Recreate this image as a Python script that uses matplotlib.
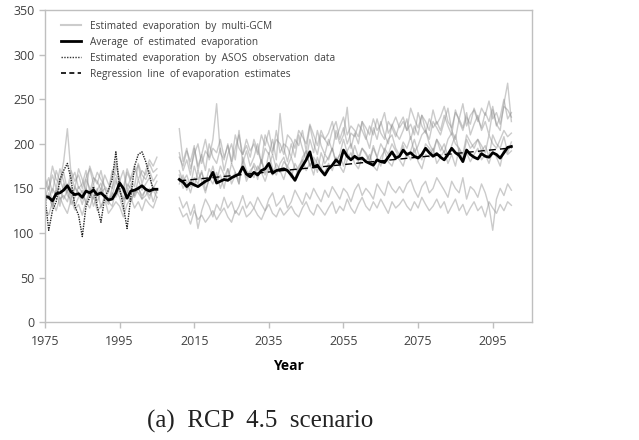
import numpy as np
import matplotlib
matplotlib.use("Agg")
import matplotlib.pyplot as plt

# years
HIST_YEARS = np.arange(1975, 2006)
FUT_YEARS = np.arange(2011, 2101)

# multi-GCM estimates, historical period (1975-2005)
GCM_HIST = [
    [150, 162, 145, 170, 158, 180, 217, 165, 150, 172, 160, 148, 175, 162, 155, 170,
     150, 145, 165, 180, 158, 150, 172, 160, 168, 176, 155, 170, 182, 175, 185],
    [145, 138, 150, 142, 160, 148, 155, 140, 152, 145, 138, 160, 150, 142, 148, 156,
     140, 135, 150, 162, 145, 138, 155, 150, 142, 160, 148, 155, 162, 150, 158],
    [132, 145, 128, 150, 138, 142, 135, 152, 130, 140, 148, 132, 145, 138, 150, 128,
     142, 135, 130, 148, 140, 125, 150, 135, 145, 152, 138, 142, 150, 135, 148],
    [128, 120, 135, 125, 140, 130, 122, 138, 126, 132, 120, 135, 128, 142, 125, 130,
     138, 122, 128, 135, 130, 118, 132, 140, 128, 135, 125, 138, 132, 128, 140],
    [155, 148, 165, 150, 172, 158, 145, 160, 168, 150, 155, 170, 145, 162, 158, 148,
     165, 155, 150, 175, 160, 145, 168, 158, 152, 178, 165, 160, 170, 158, 165],
    [140, 152, 135, 148, 130, 155, 142, 138, 150, 145, 132, 150, 140, 155, 135, 145,
     150, 138, 142, 158, 148, 135, 145, 155, 140, 150, 142, 148, 138, 152, 145],
    [162, 150, 175, 160, 155, 168, 148, 170, 158, 165, 150, 162, 172, 155, 168, 160,
     152, 148, 170, 165, 158, 170, 150, 162, 175, 160, 170, 165, 178, 168, 172],
    [135, 142, 130, 145, 150, 138, 148, 132, 140, 152, 145, 135, 148, 130, 142, 150,
     138, 132, 145, 140, 150, 138, 142, 135, 148, 145, 138, 150, 142, 148, 140],
]

# multi-GCM estimates, RCP 4.5 future period (2011-2100)
GCM_FUT = [
    [217, 180, 195, 172, 188, 200, 178, 192, 185, 205,
     245, 190, 182, 200, 178, 195, 210, 188, 198, 185,
     205, 192, 180, 210, 198, 188, 215, 190, 200, 196,
     185, 205, 198, 215, 192, 220, 200, 188, 210, 205,
     198, 215, 225, 205, 218, 200, 212, 208, 222, 215,
     205, 220, 210, 228, 212, 205, 225, 218, 208, 222,
     230, 215, 222, 210, 235, 220, 212, 228, 218, 225,
     215, 232, 220, 210, 238, 225, 215, 230, 222, 240,
     228, 218, 235, 225, 242, 220, 230, 250, 228, 235],
    [165, 150, 158, 145, 162, 155, 170, 148, 160, 175,
     158, 165, 150, 172, 160, 168, 155, 180, 162, 170,
     175, 160, 182, 168, 190, 172, 165, 178, 185, 170,
     162, 178, 170, 185, 192, 175, 182, 168, 190, 178,
     185, 195, 180, 188, 205, 190, 182, 198, 185, 195,
     188, 180, 195, 185, 200, 192, 205, 210, 195, 188,
     202, 195, 208, 190, 198, 210, 215, 200, 192, 205,
     198, 190, 205, 212, 200, 195, 188, 210, 202, 195,
     205, 198, 190, 210, 200, 195, 205, 215, 208, 212],
    [190, 170, 182, 165, 195, 175, 188, 170, 200, 185,
     178, 195, 170, 188, 200, 182, 215, 178, 192, 175,
     185, 200, 178, 195, 188, 205, 182, 234, 195, 180,
     200, 185, 210, 195, 182, 205, 190, 215, 198, 188,
     205, 192, 215, 200, 210, 241, 195, 212, 200, 225,
     208, 195, 218, 205, 225, 210, 200, 222, 212, 205,
     215, 228, 205, 220, 210, 232, 215, 205, 225, 218,
     210, 225, 240, 215, 205, 228, 218, 235, 210, 222,
     232, 215, 225, 210, 238, 222, 215, 245, 268, 225],
    [128, 118, 122, 110, 125, 115, 120, 112, 118, 125,
     115, 122, 128, 118, 112, 125, 120, 130, 118, 122,
     128, 120, 115, 125, 132, 122, 118, 128, 120, 125,
     130, 122, 118, 128, 135, 125, 120, 132, 126, 120,
     128, 135, 122, 130, 125, 138, 128, 122, 132, 140,
     130, 125, 135, 128, 138, 130, 122, 135, 128, 132,
     138, 130, 125, 135, 128, 140, 132, 125, 130, 138,
     128, 135, 122, 130, 138, 125, 132, 120, 128, 135,
     125, 130, 118, 135, 128, 122, 132, 125, 135, 131],
    [140, 128, 135, 120, 132, 105, 125, 138, 130, 118,
     132, 125, 140, 128, 135, 122, 130, 142, 128, 135,
     128, 140, 132, 125, 138, 145, 130, 135, 142, 128,
     135, 148, 140, 132, 145, 138, 150, 142, 135, 148,
     140, 152, 145, 138, 150, 145, 135, 148, 155, 142,
     150, 145, 138, 155, 148, 142, 158, 150, 145, 152,
     145, 155, 160, 148, 140, 152, 158, 145, 150, 162,
     155, 148, 140, 158, 150, 145, 162, 138, 152, 148,
     140, 155, 145, 130, 103, 138, 150, 142, 155, 148],
    [155, 165, 148, 160, 152, 170, 158, 145, 162, 155,
     168, 150, 162, 172, 155, 165, 160, 175, 158, 168,
     162, 175, 168, 158, 172, 165, 178, 170, 160, 175,
     168, 160, 175, 182, 170, 178, 165, 185, 172, 168,
     178, 170, 185, 175, 168, 182, 190, 178, 172, 185,
     180, 188, 175, 170, 185, 192, 180, 175, 188, 182,
     175, 190, 182, 195, 180, 172, 188, 185, 195, 178,
     185, 192, 178, 188, 175, 195, 182, 190, 180, 188,
     195, 182, 188, 178, 192, 185, 175, 195, 188, 192],
    [185, 175, 192, 180, 198, 170, 188, 205, 182, 195,
     190, 205, 185, 198, 180, 210, 195, 188, 205, 192,
     200, 188, 210, 198, 215, 192, 205, 200, 188, 210,
     205, 195, 215, 208, 200, 222, 210, 198, 215, 205,
     212, 225, 205, 218, 230, 210, 220, 215, 208, 225,
     218, 210, 228, 215, 222, 235, 212, 220, 230, 218,
     225, 215, 240, 228, 218, 232, 225, 215, 238, 222,
     230, 242, 225, 218, 235, 228, 245, 220, 232, 238,
     225, 240, 232, 248, 228, 235, 222, 242, 238, 230],
    [170, 158, 165, 152, 175, 160, 168, 155, 172, 162,
     158, 175, 165, 160, 178, 168, 155, 185, 170, 165,
     178, 170, 182, 165, 175, 188, 172, 168, 180, 175,
     185, 172, 168, 180, 192, 175, 185, 178, 170, 188,
     182, 195, 178, 188, 175, 192, 200, 185, 180, 195,
     190, 182, 198, 185, 175, 195, 188, 200, 192, 185,
     198, 185, 192, 205, 190, 182, 200, 195, 188, 205,
     192, 200, 185, 198, 210, 190, 182, 205, 195, 200,
     205, 192, 198, 185, 210, 200, 195, 208, 190, 202],
]

# average of estimated evaporation
AVG_HIST = [141, 140, 136, 144, 145, 148, 153, 146, 143, 144, 140, 147, 145, 148, 143, 145,
            141, 137, 138, 145, 156, 150, 139, 147, 148, 150, 153, 149, 147, 149, 149]
AVG_FUT = [160, 157, 152, 156, 154, 152, 155, 158, 160, 168,
           156, 158, 160, 159, 162, 164, 166, 174, 166, 163,
           168, 165, 170, 172, 178, 167, 170, 171, 172, 170,
           165, 159, 168, 175, 182, 191, 174, 176, 170, 165,
           172, 176, 182, 178, 193, 186, 182, 186, 183, 184,
           180, 178, 176, 182, 180, 179, 185, 191, 184, 186,
           193, 188, 190, 186, 184, 188, 195, 190, 186, 189,
           185, 182, 188, 195, 190, 187, 180, 193, 188, 185,
           183, 189, 186, 185, 190, 188, 184, 190, 196, 197]

# ASOS observation based estimate
ASOS = [140, 103, 125, 135, 160, 170, 178, 160, 130, 120, 96, 130, 140, 152, 130, 112,
        140, 148, 160, 191, 150, 130, 105, 140, 175, 188, 191, 180, 165, 148, 150]

GRAY = "#8c8c8c"
SPINE = "#bfbfbf"
TXT = "#404040"


def main():
    fig = plt.figure(figsize=(6.39, 4.40), dpi=100)
    ax = fig.add_axes([0.0704, 0.268, 0.762, 0.709])

    for h in GCM_HIST:
        ax.plot(HIST_YEARS, h, color=GRAY, lw=1.0, alpha=0.45)
    for f in GCM_FUT:
        ax.plot(FUT_YEARS, f, color=GRAY, lw=1.0, alpha=0.45)

    ax.plot(HIST_YEARS, ASOS, color="#222222", lw=1.0, ls=(0, (1, 0.8)))

    # regression of the future average
    coef = np.polyfit(FUT_YEARS, AVG_FUT, 1)
    ax.plot(FUT_YEARS, np.polyval(coef, FUT_YEARS), color="black", lw=1.0, ls=(0, (5, 3)))

    ax.plot(HIST_YEARS, AVG_HIST, color="black", lw=2.0)
    ax.plot(FUT_YEARS, AVG_FUT, color="black", lw=2.0)

    ax.set_xlim(1975, 2105.5)
    ax.set_ylim(0, 350)
    ax.set_xticks(np.arange(1975, 2096, 20))
    ax.set_yticks(np.arange(0, 351, 50))
    for s in ax.spines.values():
        s.set_color(SPINE)
        s.set_linewidth(1.0)
    ax.tick_params(axis="both", colors=SPINE, labelcolor=TXT, labelsize=9, length=4, width=1.0)
    ax.tick_params(axis="x", pad=5)
    for lab in ax.get_xticklabels() + ax.get_yticklabels():
        lab.set_fontfamily("Open Sans")

    ax.set_xlabel("Year", fontsize=10, fontweight="bold", color="black", labelpad=8,
                  fontfamily="Open Sans")

    handles = [
        plt.Line2D([], [], color="#cccccc", lw=1.5),
        plt.Line2D([], [], color="black", lw=2.0),
        plt.Line2D([], [], color="#333333", lw=1.0, ls=(0, (1, 1))),
        plt.Line2D([], [], color="black", lw=1.2, ls=(0, (3, 2))),
    ]
    labels = [
        "Estimated  evaporation  by  multi-GCM",
        "Average  of  estimated  evaporation",
        "Estimated  evaporation  by  ASOS  observation  data",
        "Regression  line  of evaporation  estimates",
    ]
    leg = ax.legend(handles, labels, loc="upper left", bbox_to_anchor=(0.015, 0.995),
                    frameon=False, handlelength=1.9, labelspacing=0.5,
                    handletextpad=0.9, prop={"family": "Open Sans", "size": 7.3})
    for t in leg.get_texts():
        t.set_color(TXT)

    fig.text(0.4077, 0.043, "(a)  RCP  4.5  scenario", fontsize=18,
             fontfamily="Liberation Serif", ha="center", va="center", color="#222222")

    fig.savefig("out.png", dpi=100)
    plt.close(fig)


if __name__ == "__main__":
    main()
